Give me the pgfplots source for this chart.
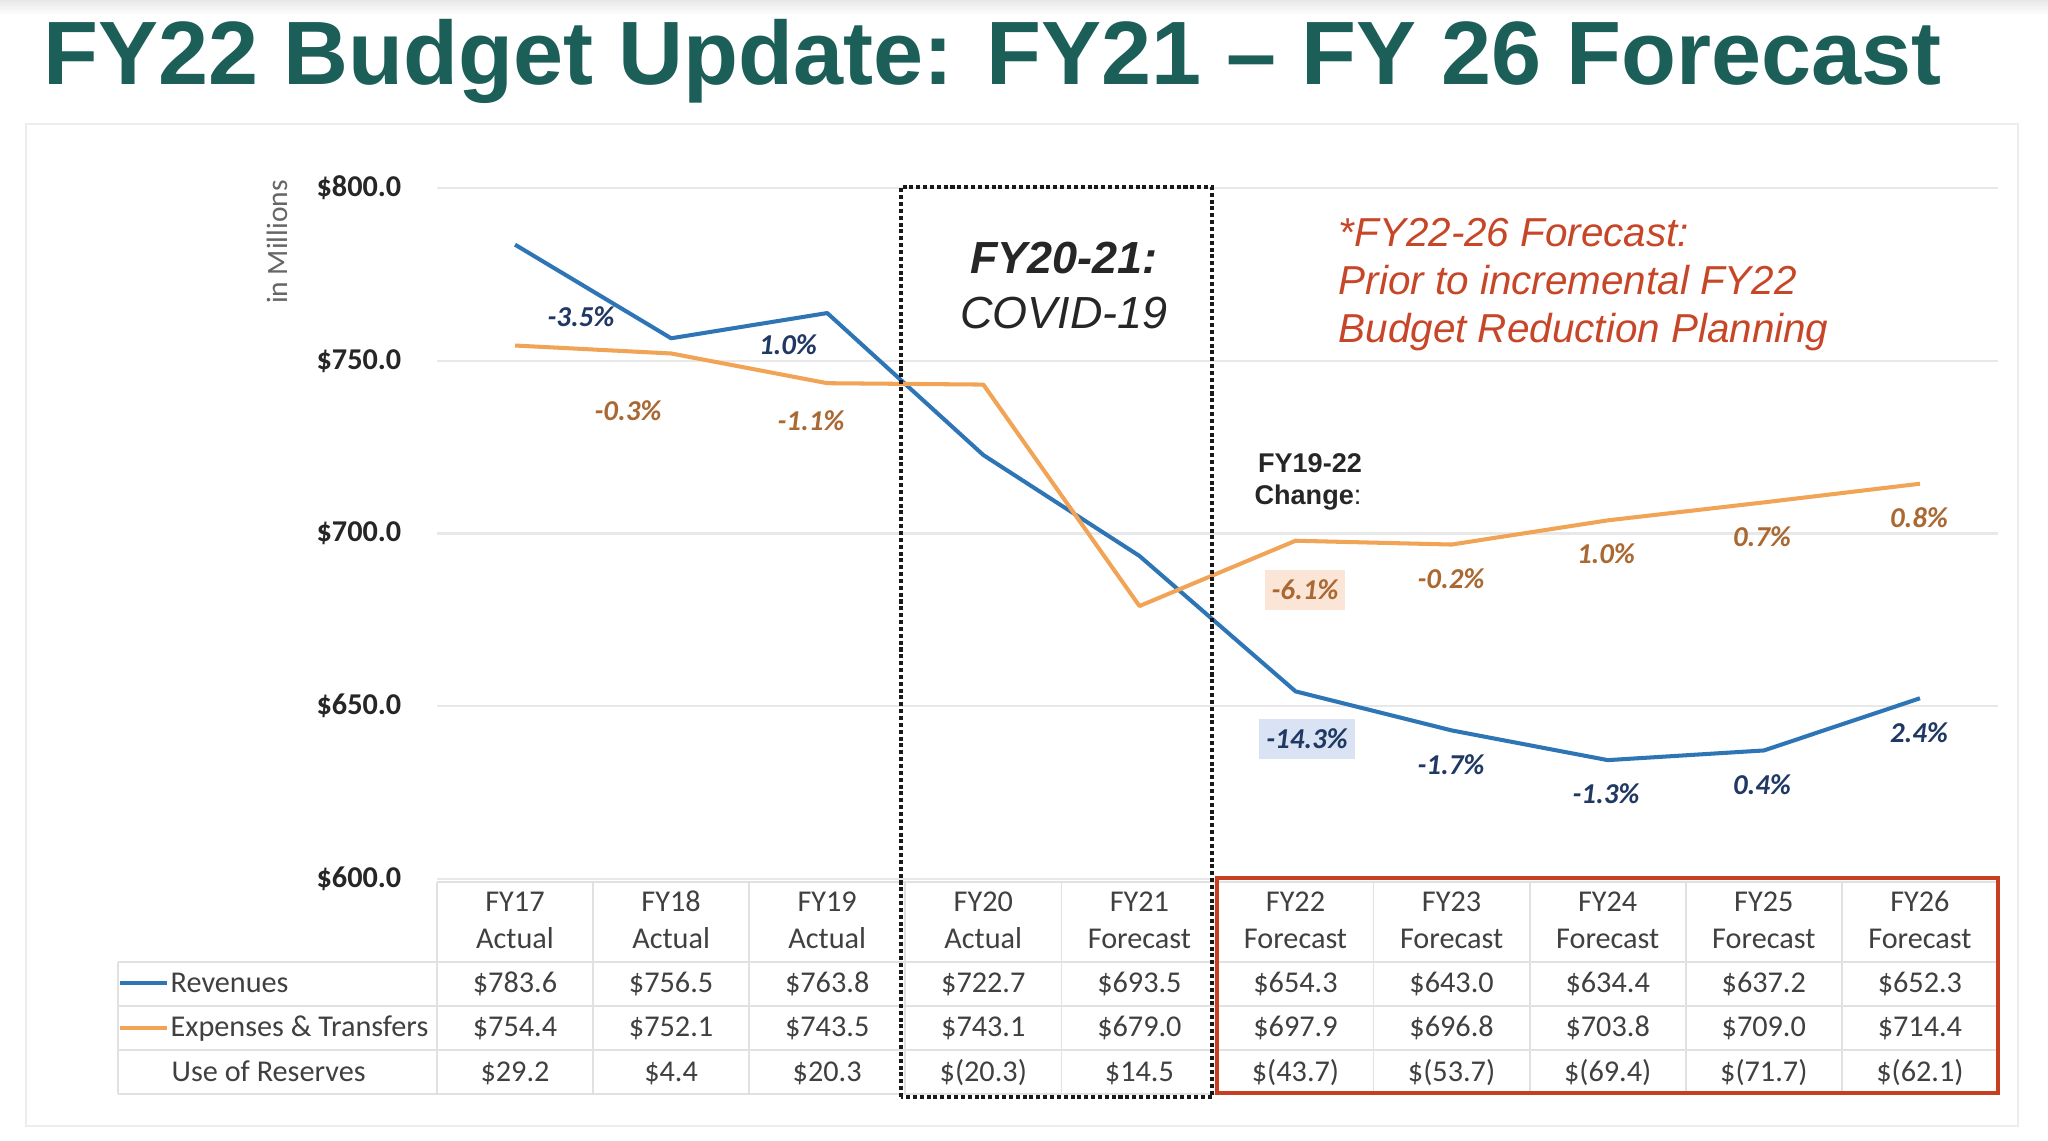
\documentclass[border=0pt]{standalone}
\usepackage{pgfplots}
\pgfplotsset{compat=1.18}
\usepackage{fontspec}
\setmainfont{Carlito}
\newfontfamily\arial{Liberation Sans}
\definecolor{titlecol}{RGB}{28,94,88}
\definecolor{revcol}{RGB}{46,117,182}
\definecolor{expcol}{RGB}{241,163,86}
\definecolor{revlab}{RGB}{32,56,100}
\definecolor{explab}{RGB}{170,105,50}
\definecolor{redbox}{RGB}{200,62,32}
\definecolor{redtext}{RGB}{200,70,40}
\definecolor{gridc}{RGB}{232,232,232}
\definecolor{tabline}{RGB}{225,225,225}
\definecolor{tabtext}{RGB}{64,64,64}
\definecolor{darktext}{RGB}{38,38,38}
\definecolor{revbox}{RGB}{218,227,243}
\definecolor{expbox}{RGB}{251,229,214}

\begin{document}
\begin{tikzpicture}[
  tab/.style={font=\fontsize{8.6}{10}\selectfont, text=tabtext, inner sep=0pt},
  pl/.style={font=\bfseries\itshape\fontsize{8.2}{10}\selectfont, inner sep=0pt},
  plb/.style={font=\bfseries\itshape\fontsize{8.2}{10}\selectfont, inner xsep=0.7mm, inner ysep=1.0mm}
]
\useasboundingbox (0,0) rectangle (204.8mm,114.1mm);
\fill[white] (0,0) rectangle (204.8mm,114.1mm);
\shade[top color=gray!18, bottom color=white] (0,112.6mm) rectangle (204.8mm,114.1mm);
\draw[gray!14, line width=0.4pt] (2.6mm,1.5mm) rectangle (201.8mm,101.7mm);

% title
\node[anchor=base west, inner sep=0pt, text=titlecol, font=\arial\bfseries\fontsize{25.6}{30}\selectfont] at (4.3mm,105.6mm) {FY22 Budget Update: FY21 – FY 26 Forecast};

\begin{axis}[
  at={(43.7mm,26.2mm)}, anchor=south west,
  scale only axis, width=156.1mm, height=69.1mm,
  xmin=-0.5, xmax=9.5, ymin=600, ymax=800,
  axis line style={draw=none},
  xtick=\empty,
  ytick={600,650,700,750,800},
  yticklabels={\$600.0,\$650.0,\$700.0,\$750.0,\$800.0},
  major tick length=0pt,
  ymajorgrids, grid style={gridc, line width=0.7pt},
  yticklabel style={font=\bfseries\fontsize{8.6}{10}\selectfont, text=darktext, inner sep=0pt, anchor=east, xshift=-3.5mm},
  clip=false,
]
\addplot[revcol, line width=1.15pt, line join=round] coordinates {
 (0,783.6) (1,756.5) (2,763.8) (3,722.7) (4,693.5) (5,654.3) (6,643.0) (7,634.4) (8,637.2) (9,652.3)};
\addplot[expcol, line width=1.15pt, line join=round] coordinates {
 (0,754.4) (1,752.1) (2,743.5) (3,743.1) (4,679.0) (5,697.9) (6,696.8) (7,703.8) (8,709.0) (9,714.4)};
\end{axis}

% y-axis title
\node[rotate=90, font=\fontsize{8.4}{10}\selectfont, text=black!60, inner sep=0pt] at (27.7mm,89.9mm) {in Millions};

% table grid
\begin{scope}[tabline, line width=0.5pt]
\draw (43.7mm,25.9mm) -- (199.8mm,25.9mm);
\foreach \yy in {17.9,13.5,9.1,4.7} {\draw (11.8mm,\yy mm) -- (199.8mm,\yy mm);}
\foreach \k in {0,...,10} {
  \pgfmathsetmacro\vx{43.7+15.61*\k}
  \draw (\vx mm,4.7mm) -- (\vx mm,25.9mm);}
\draw (11.8mm,4.7mm) -- (11.8mm,17.9mm);
\end{scope}

% legend / row labels
\draw[revcol, line width=1.2pt] (12.0mm,15.8mm) -- (16.7mm,15.8mm);
\draw[expcol, line width=1.2pt] (12.0mm,11.3mm) -- (16.7mm,11.3mm);
\node[tab, anchor=base west] at (17.0mm,14.8mm) {Revenues};
\node[tab, anchor=base west] at (17.0mm,10.4mm) {Expenses \& Transfers};
\node[tab, anchor=base west] at (17.1mm,5.9mm) {Use of Reserves};

% table values
\foreach \i/\yr/\kind/\r/\e/\u in {
 0/FY17/Actual/783.6/754.4/29.2,
 1/FY18/Actual/756.5/752.1/4.4,
 2/FY19/Actual/763.8/743.5/20.3,
 3/FY20/Actual/722.7/743.1/{(20.3)},
 4/FY21/Forecast/693.5/679.0/14.5,
 5/FY22/Forecast/654.3/697.9/{(43.7)},
 6/FY23/Forecast/643.0/696.8/{(53.7)},
 7/FY24/Forecast/634.4/703.8/{(69.4)},
 8/FY25/Forecast/637.2/709.0/{(71.7)},
 9/FY26/Forecast/652.3/714.4/{(62.1)}} {
  \pgfmathsetmacro\cx{51.5+15.61*\i}
  \node[tab, anchor=base] at (\cx mm,22.9mm) {\yr};
  \node[tab, anchor=base] at (\cx mm,19.2mm) {\kind};
  \node[tab, anchor=base] at (\cx mm,14.8mm) {\$\r};
  \node[tab, anchor=base] at (\cx mm,10.4mm) {\$\e};
  \node[tab, anchor=base] at (\cx mm,5.9mm) {\$\u};
}

% percent labels - revenues
\node[pl, text=revlab] at (58.1mm,82.4mm) {-3.5\%};
\node[pl, text=revlab] at (78.8mm,79.6mm) {1.0\%};
\node[plb, text=revlab, fill=revbox] at (130.7mm,40.2mm) {-14.3\%};
\node[pl, text=revlab] at (145.1mm,37.6mm) {-1.7\%};
\node[pl, text=revlab] at (160.6mm,34.7mm) {-1.3\%};
\node[pl, text=revlab] at (176.2mm,35.6mm) {0.4\%};
\node[pl, text=revlab] at (191.9mm,40.8mm) {2.4\%};
% percent labels - expenses
\node[pl, text=explab] at (62.8mm,73.0mm) {-0.3\%};
\node[pl, text=explab] at (81.1mm,72.0mm) {-1.1\%};
\node[plb, text=explab, fill=expbox] at (130.5mm,55.1mm) {-6.1\%};
\node[pl, text=explab] at (145.1mm,56.2mm) {-0.2\%};
\node[pl, text=explab] at (160.6mm,58.7mm) {1.0\%};
\node[pl, text=explab] at (176.2mm,60.4mm) {0.7\%};
\node[pl, text=explab] at (191.9mm,62.3mm) {0.8\%};

% annotations
\node[anchor=base, inner sep=0pt, text=darktext, font=\arial\bfseries\itshape\fontsize{12.8}{15}\selectfont] at (106.4mm,86.7mm) {FY20-21:};
\node[anchor=base, inner sep=0pt, text=darktext, font=\arial\itshape\fontsize{12.8}{15}\selectfont] at (106.4mm,81.2mm) {COVID-19};

\begin{scope}[every node/.style={anchor=base west, inner sep=0pt, text=redtext, font=\arial\itshape\fontsize{11.5}{14}\selectfont}]
\node at (133.8mm,89.4mm) {*FY22-26 Forecast:};
\node at (133.8mm,84.6mm) {Prior to incremental FY22};
\node at (133.8mm,79.8mm) {Budget Reduction Planning};
\end{scope}

\node[anchor=base, inner sep=0pt, text=darktext, font=\arial\bfseries\fontsize{7.7}{9}\selectfont] at (131.0mm,66.8mm) {FY19-22};
\node[anchor=base, inner sep=0pt, text=darktext, font=\arial\fontsize{7.7}{9}\selectfont] at (130.8mm,63.6mm) {\textbf{Change}:};

% boxes
\draw[redbox, line width=1.4pt] (121.7mm,4.8mm) rectangle (199.8mm,26.3mm);
\draw[black!90, line width=1.25pt, dash pattern=on 1.15pt off 0.8pt] (90.1mm,4.4mm) rectangle (121.2mm,95.4mm);
\end{tikzpicture}
\end{document}
